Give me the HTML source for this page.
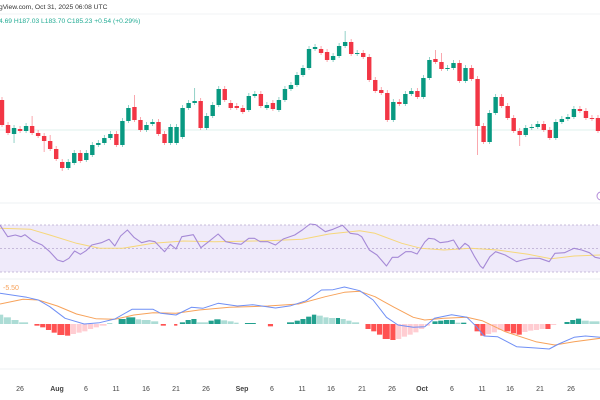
<!DOCTYPE html>
<html><head><meta charset="utf-8">
<style>
html,body{margin:0;padding:0;background:#fff;width:600px;height:400px;overflow:hidden}
svg{display:block;font-family:"Liberation Sans",sans-serif}
</style></head><body>
<svg id="s" width="600" height="400" xmlns="http://www.w3.org/2000/svg">
<line x1="0" y1="14" x2="600" y2="14" stroke="#f0f3f6"/>
<text x="-1" y="9" font-size="6.7" fill="#333">gView.com, Oct 31, 2025 06:08 UTC</text>
<text x="-1" y="23" font-size="6.7" fill="#22ab94">4.69  H187.03  L183.70  C185.23  +0.54 (+0.29%)</text>
<line x1="0" y1="130" x2="600" y2="130" stroke="#dff2ee" stroke-width="1"/>
<line x1="0" y1="203" x2="600" y2="203" stroke="#eef0f3"/>
<rect x="0" y="225" width="600" height="47" fill="#efeafa"/>
<line x1="0" y1="225" x2="600" y2="225" stroke="#b8a9d0" stroke-dasharray="2,2" stroke-width="0.8"/>
<line x1="0" y1="248.5" x2="600" y2="248.5" stroke="#b8a9d0" stroke-dasharray="2,2" stroke-width="0.8"/>
<line x1="0" y1="272" x2="600" y2="272" stroke="#b8a9d0" stroke-dasharray="2,2" stroke-width="0.8"/>
<line x1="0" y1="279" x2="600" y2="279" stroke="#eef0f3"/>
<line x1="0" y1="369" x2="600" y2="369" stroke="#eef0f3"/>
<text x="3" y="290" font-size="7" fill="#f7a25a">-5.50</text>
<circle cx="601" cy="196" r="4" fill="none" stroke="#b38bd8" stroke-width="1"/>
<g id="c"></g>
<g font-size="7" fill="#444" text-anchor="middle">
<text x="20" y="391">26</text><text x="57" y="391" font-weight="bold">Aug</text><text x="86" y="391">6</text><text x="116" y="391">11</text><text x="146" y="391">16</text><text x="176" y="391">21</text><text x="206" y="391">26</text><text x="242" y="391" font-weight="bold">Sep</text><text x="272" y="391">6</text><text x="302" y="391">11</text><text x="331" y="391">16</text><text x="362" y="391">21</text><text x="392" y="391">26</text><text x="422" y="391" font-weight="bold">Oct</text><text x="452" y="391">6</text><text x="482" y="391">11</text><text x="510" y="391">16</text><text x="540" y="391">21</text><text x="571" y="391">26</text>
</g>
</svg>
<script>
var NS="http://www.w3.org/2000/svg",g=document.getElementById('c');
function el(t,a){var e=document.createElementNS(NS,t);for(var k in a)e.setAttribute(k,a[k]);g.appendChild(e);return e;}
var S=2.613;
var H=[[0,10,28,'l'],[10,30,20,'l'],[30,50,12,'l'],[50,75,5,'l'],[90,105,-5,'r'],[105,120,-10,'r'],[120,135,-18,'r'],[135,150,-26,'r'],[150,170,-33,'r'],[170,185,-35,'r'],[185,200,-30,'p'],[200,215,-26,'p'],[215,230,-22,'p'],[230,245,-15,'p'],[245,260,-10,'p'],[260,280,-5,'p'],[280,295,3,'l'],[310,330,15,'g'],[330,355,20,'g'],[355,370,14,'l'],[370,395,12,'l'],[395,415,8,'l'],[420,435,-5,'r'],[455,465,-5,'r'],[470,485,5,'g'],[485,500,12,'g'],[500,515,15,'g'],[515,545,5,'l'],[545,560,10,'g'],[560,578,14,'g'],[578,595,11,'l'],[595,612,8,'l'],[612,625,4,'l'],[640,670,3,'g'],[700,715,-7,'r'],[750,770,5,'g'],[770,785,10,'g'],[785,800,15,'g'],[800,815,22,'g'],[815,828,28,'g'],[828,845,25,'l'],[845,860,20,'l'],[860,878,18,'l'],[878,890,18,'g'],[890,905,15,'l'],[905,920,10,'l'],[920,940,5,'l'],[955,970,-15,'r'],[970,985,-22,'r'],[985,1000,-32,'r'],[1000,1020,-45,'r'],[1020,1035,-48,'r'],[1035,1050,-45,'p'],[1050,1065,-38,'p'],[1065,1080,-32,'p'],[1080,1095,-25,'p'],[1095,1110,-15,'p'],[1110,1125,-5,'p'],[1130,1145,8,'g'],[1145,1160,10,'g'],[1160,1175,12,'g'],[1175,1190,12,'g'],[1190,1205,4,'l'],[1205,1220,4,'g'],[1240,1255,-22,'r'],[1255,1270,-35,'r'],[1270,1285,-30,'p'],[1285,1300,-25,'p'],[1300,1318,-18,'p'],[1318,1335,-22,'r'],[1335,1350,-28,'r'],[1350,1365,-32,'r'],[1365,1380,-24,'p'],[1380,1395,-20,'p'],[1395,1410,-18,'p'],[1410,1425,-15,'p'],[1425,1440,-15,'r'],[1440,1455,-3,'p'],[1475,1490,6,'g'],[1490,1505,12,'g'],[1505,1520,16,'g'],[1520,1540,10,'l'],[1540,1568,8,'l']];
var HC={l:'#acdcd5',g:'#22a08e',r:'#ff5252',p:'#ffcdd2'};
var Z=324;
H.forEach(function(h){var x1=h[0]/S,x2=h[1]/S,v=h[2]/3;el('rect',{x:x1,y:v>0?Z-v:Z,width:Math.max(x2-x1-0.6,0.8),height:Math.abs(v),fill:HC[h[3]]});});
function line(pts,col,w){var d=pts.map(function(p,i){return (i?'L':'M')+(p[0]/S).toFixed(1)+' '+(200+p[1]/3).toFixed(1)}).join(' ');el('path',{d:d,fill:'none',stroke:col,'stroke-width':w,'stroke-linejoin':'round'});}
line([[0,312],[60,298],[100,300],[150,318],[200,342],[250,356],[300,358],[350,345],[400,338],[460,340],[520,330],[600,322],[700,318],[780,312],[850,290],[900,277],[940,274],[980,290],[1030,322],[1080,352],[1110,360],[1160,355],[1220,352],[1260,362],[1320,395],[1400,425],[1450,435],[1500,425],[1568,415]],'#f7a25a',1);
line([[0,280],[70,292],[100,300],[130,320],[170,355],[220,372],[260,368],[300,357],[345,328],[400,328],[420,340],[460,345],[500,322],[530,325],[570,310],[620,318],[660,314],[720,324],[760,317],[800,302],[840,270],[870,269],[900,261],[940,272],[975,300],[1010,352],[1040,375],[1080,382],[1110,380],[1135,355],[1180,344],[1220,352],[1245,380],[1265,408],[1300,410],[1350,440],[1400,444],[1435,447],[1460,432],[1500,412],[1530,408],[1568,412]],'#6f8ff5',1);
line([[0,85],[80,88],[130,105],[200,130],[260,145],[320,145],[400,130],[480,123],[560,125],[700,122],[790,118],[860,102],[940,92],[980,100],[1050,130],[1100,145],[1160,150],[1230,145],[1300,150],[1380,163],[1440,176],[1500,168],[1568,165]],'#f6d77a',1);
line([[0,75],[20,110],[40,105],[55,110],[65,104],[85,122],[110,135],[130,155],[150,180],[165,185],[180,175],[195,153],[210,163],[225,152],[240,135],[265,128],[285,118],[300,138],[315,108],[333,90],[350,112],[370,128],[390,122],[405,125],[430,155],[445,133],[460,147],[475,110],[505,104],[525,143],[545,125],[570,102],[590,125],[610,130],[630,133],[650,115],[665,115],[680,125],[700,125],[720,135],[740,117],[770,105],[790,90],[810,72],[825,74],[850,95],[870,88],[895,76],[915,100],[935,103],[945,110],[965,150],[985,165],[1010,198],[1025,172],[1040,172],[1060,155],[1075,155],[1090,162],[1110,126],[1120,115],[1135,117],[1150,128],[1170,125],[1185,120],[1200,148],[1215,130],[1225,138],[1240,170],[1255,198],[1262,205],[1280,170],[1295,155],[1320,165],[1350,185],[1365,180],[1385,175],[1410,175],[1435,185],[1450,160],[1475,158],[1500,145],[1520,150],[1540,158],[1555,172],[1568,175]],'#a589d6',1.1);
var C=[[100,125,0],[125,133,0],[128,134,1],[129,131,0],[126,131,1],[126,133,0],[133,136,0],[136,141,0],[141,149,0],[149,159,0],[162,168,0],[162,168,1],[153,163,1],[153,161,0],[153,160,1],[145,155,1],[143,145,1],[138,143,1],[134,138,1],[134,145,0],[121,145,1],[108,121,1],[107,120,0],[120,130,0],[125,130,1],[122,124,1],[122,134,0],[134,143,0],[127,143,1],[127,143,1],[108,137,1],[103,108,1],[101,103,1],[101,128,0],[116,128,1],[105,116,1],[89,105,1],[89,100,0],[103,108,0],[106,108,0],[108,112,0],[96,110,1],[94,96,1],[94,106,0],[105,108,1],[103,109,0],[100,110,1],[89,100,1],[85,89,1],[75,85,1],
[68,75,1],[49,68,1],[47,49,1],[49,53,0],[52,60,0],[56,60,1],[46,56,1],[42,46,1],[42,54,0],[53,54,1],[53,57,0],[57,80,0],[80,91,0],[90,93,0],[93,120,0],[102,120,1],[102,104,0],[94,104,1],[91,94,1],[91,97,0],[78,97,1],[60,78,1],[59,62,0],[62,69,0],[68,69,1],[63,68,1],[63,81,0],[68,81,1],[68,79,0],[79,126,0],[126,142,0],[113,142,1],[97,113,1],[97,106,0],[106,118,0],[118,131,0],[131,135,0],[128,135,1],[127,128,1],[124,127,1],[124,130,0],[130,138,0],[122,138,1],[119,122,1],[117,119,1],[109,117,1],[109,111,0],[111,118,0],[118,119,0],[118,131,0]];
var W=[[0,0],[-3,2],[0,9],[0,0],[-3,0],[-10,2],[0,0],[0,11],[-6,0],[0,0],[0,3],[0,0],[0,0],[0,0],[0,0],[0,0],[0,0],[0,0],[0,0],[0,0],[0,0],[0,0],[-12,0]];
C.forEach(function(c,i){var x=2+i*6.02,col=c[2]?'#089981':'#f23645';var w=W[i]||[-3,2];
var hi=c[0]+(w[0]||-3),lo=c[1]+(w[1]||2);
if(i==72||i==73)hi-=6; if(i==79)lo+=27; if(i==86)lo+=9; if(i==57)hi-=8; if(i==32)hi-=10;
el('line',{x1:x,y1:hi,x2:x,y2:lo,stroke:col,'stroke-width':0.8,'stroke-opacity':0.55});
el('rect',{x:x-2.2,y:c[0],width:4.4,height:Math.max(c[1]-c[0],1),fill:col});});
</script>
</body></html>
